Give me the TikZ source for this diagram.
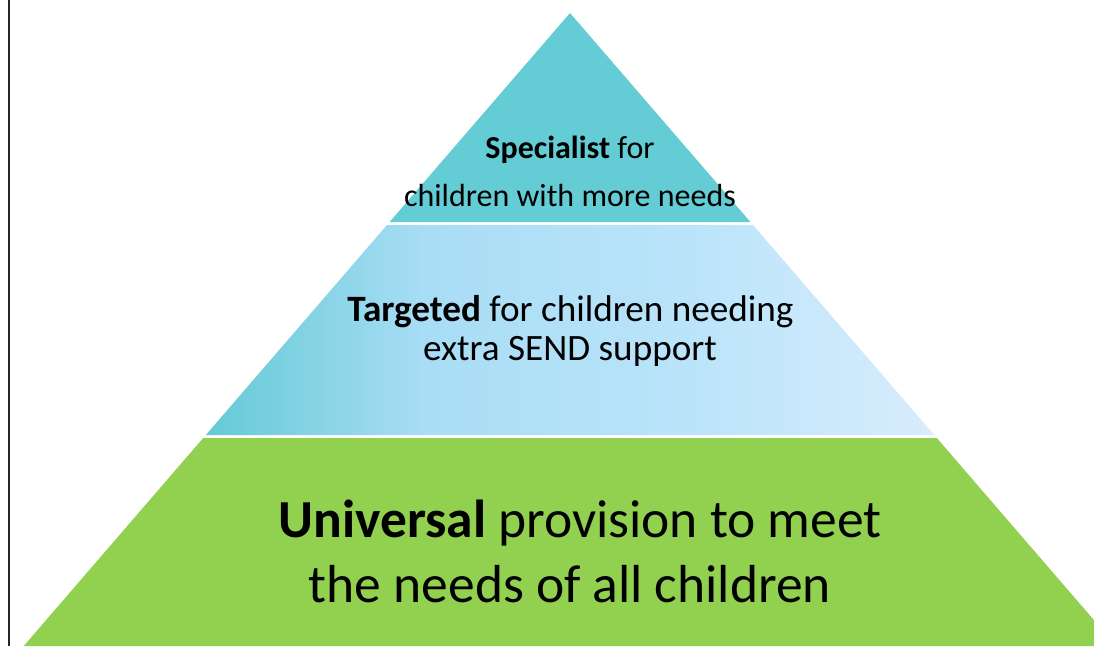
\documentclass[tikz,border=0pt]{standalone}
\usepackage{fontspec}
\setmainfont{Carlito}
\definecolor{tealtop}{RGB}{99,204,212}
\definecolor{tealmid}{RGB}{100,202,213}
\definecolor{bluemid}{RGB}{168,221,245}
\definecolor{bluemid2}{RGB}{186,228,250}
\definecolor{blueright}{RGB}{216,236,252}
\definecolor{greenbase}{RGB}{146,208,80}
\pgfdeclarehorizontalshading{midshade}{100bp}{%
  color(0bp)=(tealmid); color(25bp)=(tealmid); color(40bp)=(bluemid);
  color(58bp)=(bluemid2); color(75bp)=(blueright); color(100bp)=(blueright)}
\tikzset{
  toptext/.style={anchor=base, inner sep=0pt, font=\fontsize{32}{38}\selectfont},
  midtext/.style={anchor=base, inner sep=0pt, font=\fontsize{37.2}{43}\selectfont},
  bottext/.style={anchor=base, inner sep=0pt, font=\fontsize{53.5}{64}\selectfont},
}
\begin{document}
\begin{tikzpicture}[x=1pt,y=-1pt]
\useasboundingbox (0,0) rectangle (1094,646);
\fill[white] (0,0) rectangle (1094,646);
\begin{scope}
\clip (0,0) rectangle (1094,646);
% top tier
\fill[tealtop] (570,13) -- (750.4,222) -- (389.6,222) -- cycle;
% middle tier
\shade[shading=midshade]
  (387,225) -- (753,225) -- (934.2,435) -- (205.8,435) -- cycle;
% bottom tier
\fill[greenbase] (203.2,438) -- (936.8,438) -- (1116.3,646) -- (23.7,646) -- cycle;
\end{scope}
% left rule
\draw[line width=2pt, black!85] (9.3,0) -- (9.3,646);
% texts
\node[toptext] (s1) at (570,158) {\textbf{Specialist} for};
\node[toptext] (s2) at (570,206) {children with more needs};
\node[midtext] (t1) at (570.5,321) {\textbf{Targeted} for children needing};
\node[midtext] (t2) at (570,360) {extra SEND support};
\node[bottext] (u1) at (580,537) {\textbf{Universal} provision to meet};
\node[bottext] (u2) at (570,602) {the needs of all children};
\end{tikzpicture}
\end{document}
